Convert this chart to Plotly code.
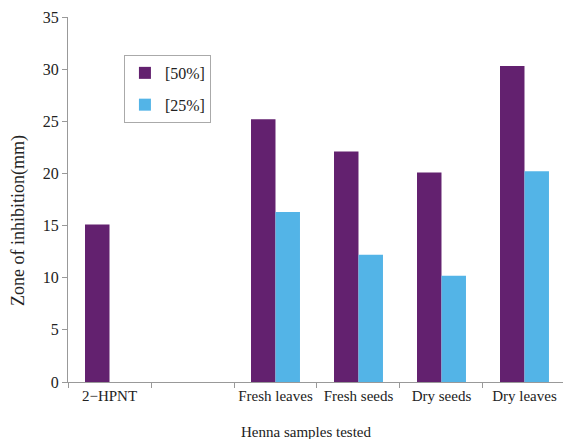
import plotly.graph_objects as go

categories = ["2\u2212HPNT", " ", "Fresh leaves", "Fresh seeds", "Dry seeds", "Dry leaves"]
values_50 = [15.1, 0, 25.2, 22.1, 20.1, 30.3]
values_25 = [0, 0, 16.3, 12.2, 10.2, 20.2]
series_names = ["[50%]", "[25%]"]
y_ticks = [0, 5, 10, 15, 20, 25, 30, 35]
x_title = "Henna samples tested"
y_title = "Zone of inhibition(mm)"

PURPLE = "#63216F"
BLUE = "#53B4E7"
FONT = "Liberation Serif"

fig = go.Figure()
fig.add_trace(go.Bar(x=categories, y=values_50, name=series_names[0],
                     marker=dict(color=PURPLE, line=dict(width=0)), legendgroup="a"))
fig.add_trace(go.Bar(x=categories, y=values_25, name=series_names[1],
                     marker=dict(color=BLUE, line=dict(width=0)), legendgroup="b"))

fig.update_layout(
    width=563, height=439,
    margin=dict(l=68, r=0, t=17, b=57, autoexpand=False),
    paper_bgcolor="white", plot_bgcolor="white",
    barmode="group", bargap=0.41, bargroupgap=0,
    font=dict(family=FONT, size=14, color="#222"),
    showlegend=True,
    legend=dict(x=0.113, y=0.896, xanchor="left", yanchor="top",
                bordercolor="#aaaaaa", borderwidth=1, bgcolor="white",
                font=dict(family=FONT, size=16, color="#222"),
                tracegroupgap=8, itemwidth=30),
    xaxis=dict(
        type="category", categoryorder="array", categoryarray=categories,
        range=[-0.5, 5.464], automargin=False, tickangle=0,
        showline=True, linecolor="#999999", linewidth=1,
        ticks="outside", tickson="boundaries", ticklen=5, tickcolor="#999999",
        tickfont=dict(family=FONT, size=15, color="#222"),
        showgrid=False, zeroline=False,
    ),
    yaxis=dict(
        range=[0, 35], tickvals=y_ticks, automargin=False,
        showline=True, linecolor="#999999", linewidth=1,
        ticks="outside", ticklen=5, tickcolor="#999999",
        tickfont=dict(family=FONT, size=16, color="#222"),
        showgrid=False, zeroline=False,
    ),
    annotations=[
        dict(text=x_title, xref="paper", yref="paper", x=0.48, y=-0.137,
             xanchor="center", yanchor="middle", showarrow=False,
             font=dict(family=FONT, size=15, color="#222")),
        dict(text=y_title, xref="paper", yref="paper", x=-0.101, y=0.441,
             xanchor="center", yanchor="middle", showarrow=False, textangle=-90,
             font=dict(family=FONT, size=18, color="#222")),
    ],
)

fig.write_html("out.html", config={"displayModeBar": False},
               post_script="document.body.style.margin='0';document.body.style.overflow='hidden';")
